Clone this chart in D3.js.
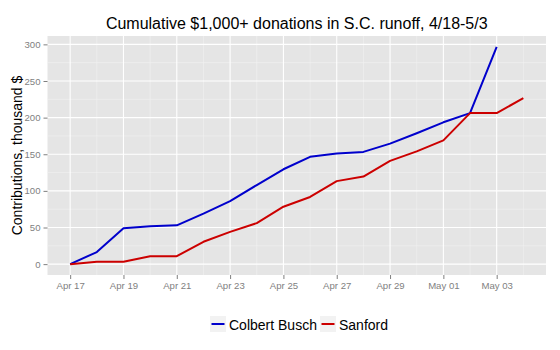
<!DOCTYPE html>
<html><head><meta charset="utf-8">
<script src="https://cdn.jsdelivr.net/npm/d3@7"></script>
<style>body{margin:0;background:#fff}svg{display:block;font-family:"Liberation Sans",Arial,sans-serif}</style>
</head><body><svg id="c" width="560" height="350"></svg>
<script>
const title = "Cumulative $1,000+ donations in S.C. runoff, 4/18-5/3";
const yTitle = "Contributions, thousand $";
const seriesNames = ["Colbert Busch", "Sanford"];
const seriesColors = ["#0000CC", "#CC0000"];
const buschDates = ["2013-04-17","2013-04-18","2013-04-19","2013-04-20","2013-04-21","2013-04-22","2013-04-23","2013-04-24","2013-04-25","2013-04-26","2013-04-27","2013-04-28","2013-04-29","2013-04-30","2013-05-01","2013-05-02","2013-05-03"];
const buschValues = [0, 16.5, 49, 51.8, 53, 69, 86, 108, 129.5, 146.5, 151, 153.2, 164.5, 178.6, 193.6, 206.2, 296.6];
const sanfordDates = ["2013-04-17","2013-04-18","2013-04-19","2013-04-20","2013-04-21","2013-04-22","2013-04-23","2013-04-24","2013-04-25","2013-04-26","2013-04-27","2013-04-28","2013-04-29","2013-04-30","2013-05-01","2013-05-02","2013-05-03","2013-05-04"];
const sanfordValues = [0, 3.4, 3.4, 10.9, 10.9, 30.5, 44, 56, 78.4, 91.7, 113.3, 119.5, 141, 154, 169, 206.2, 206.2, 226.6];
const yTicks = [0, 50, 100, 150, 200, 250, 300];
const xTickDates = ["2013-04-17","2013-04-19","2013-04-21","2013-04-23","2013-04-25","2013-04-27","2013-04-29","2013-05-01","2013-05-03"];
const xTickLabels = ["Apr 17","Apr 19","Apr 21","Apr 23","Apr 25","Apr 27","Apr 29","May 01","May 03"];

const parse = d3.utcParse("%Y-%m-%d");
const day = 864e5;
const svg = d3.select("#c");
const L = 47.5, R = 546, T = 36, B = 275;
const x0 = parse("2013-04-17"), x1 = parse("2013-05-04");
const pad = (x1 - x0) * 0.05;
const x = d3.scaleUtc().domain([new Date(+x0 - pad), new Date(+x1 + pad)]).range([L, R]);
const ymax = d3.max(buschValues.concat(sanfordValues));
const y = d3.scaleLinear().domain([-ymax*0.05, ymax*1.05]).range([B, T]);

svg.append("rect").attr("x", L).attr("y", T).attr("width", R-L).attr("height", B-T).attr("fill", "#e5e5e5");
// minor grid
const g = svg.append("g");
const minorX = d3.utcDay.range(new Date(+x0 - pad), new Date(+x1 + pad)).filter((d,i) => Math.round((d - x0)/day) % 2 !== 0);
g.selectAll(".mx").data(minorX).join("line").attr("x1", d=>x(d)).attr("x2", d=>x(d)).attr("y1", T).attr("y2", B).attr("stroke", "#f2f2f2").attr("stroke-width", 0.6);
const minorY = d3.range(-25, 325, 50).filter(v => y(v) > T && y(v) < B);
g.selectAll(".my").data(minorY).join("line").attr("x1", L).attr("x2", R).attr("y1", d=>y(d)).attr("y2", d=>y(d)).attr("stroke", "#f2f2f2").attr("stroke-width", 0.6);
// major grid
g.selectAll(".Mx").data(xTickDates.map(parse)).join("line").attr("x1", d=>x(d)).attr("x2", d=>x(d)).attr("y1", T).attr("y2", B).attr("stroke", "#fff").attr("stroke-width", 1.1);
g.selectAll(".My").data(yTicks).join("line").attr("x1", L).attr("x2", R).attr("y1", d=>y(d)).attr("y2", d=>y(d)).attr("stroke", "#fff").attr("stroke-width", 1.1);

// axes
const xa = svg.append("g").attr("transform", `translate(0,${B})`)
  .call(d3.axisBottom(x).tickValues(xTickDates.map(parse)).tickFormat((d,i)=>xTickLabels[i]).tickSize(4).tickPadding(3));
const ya = svg.append("g").attr("transform", `translate(${L},0)`)
  .call(d3.axisLeft(y).tickValues(yTicks).tickSize(4).tickPadding(3));
[xa, ya].forEach(a => {
  a.select(".domain").remove();
  a.selectAll("line").attr("stroke", "#7f7f7f");
  a.selectAll("text").attr("fill", "#7f7f7f").attr("font-size", "9.6px").attr("font-family", '"Liberation Sans",Arial,sans-serif');
});

// lines
const line = d3.line().x(d=>x(d[0])).y(d=>y(d[1]));
const data = [d3.zip(buschDates.map(parse), buschValues), d3.zip(sanfordDates.map(parse), sanfordValues)];
svg.selectAll(".series").data(data).join("path").attr("d", line).attr("fill", "none")
  .attr("stroke", (d,i)=>seriesColors[i]).attr("stroke-width", 2).attr("stroke-linejoin", "round");

// titles
svg.append("text").attr("x", (L+R)/2).attr("y", 29).attr("text-anchor", "middle").attr("font-size", "16px").attr("fill", "#000").text(title);
svg.append("text").attr("transform", `translate(21.5,${(T+B)/2}) rotate(-90)`).attr("text-anchor", "middle").attr("font-size", "14px").attr("fill", "#000").text(yTitle);

// legend
const lg = svg.append("g");
const keyX = [210, 320], txtX = [229, 339];
seriesNames.forEach((n, i) => {
  lg.append("rect").attr("x", keyX[i]).attr("y", 316).attr("width", 16).attr("height", 16).attr("fill", "#f2f2f2");
  lg.append("line").attr("x1", keyX[i]+1.5).attr("x2", keyX[i]+14.5).attr("y1", 324).attr("y2", 324).attr("stroke", seriesColors[i]).attr("stroke-width", 2);
  lg.append("text").attr("x", txtX[i]).attr("y", 329.5).attr("font-size", "14px").attr("fill", "#000").text(n);
});
</script></body></html>
